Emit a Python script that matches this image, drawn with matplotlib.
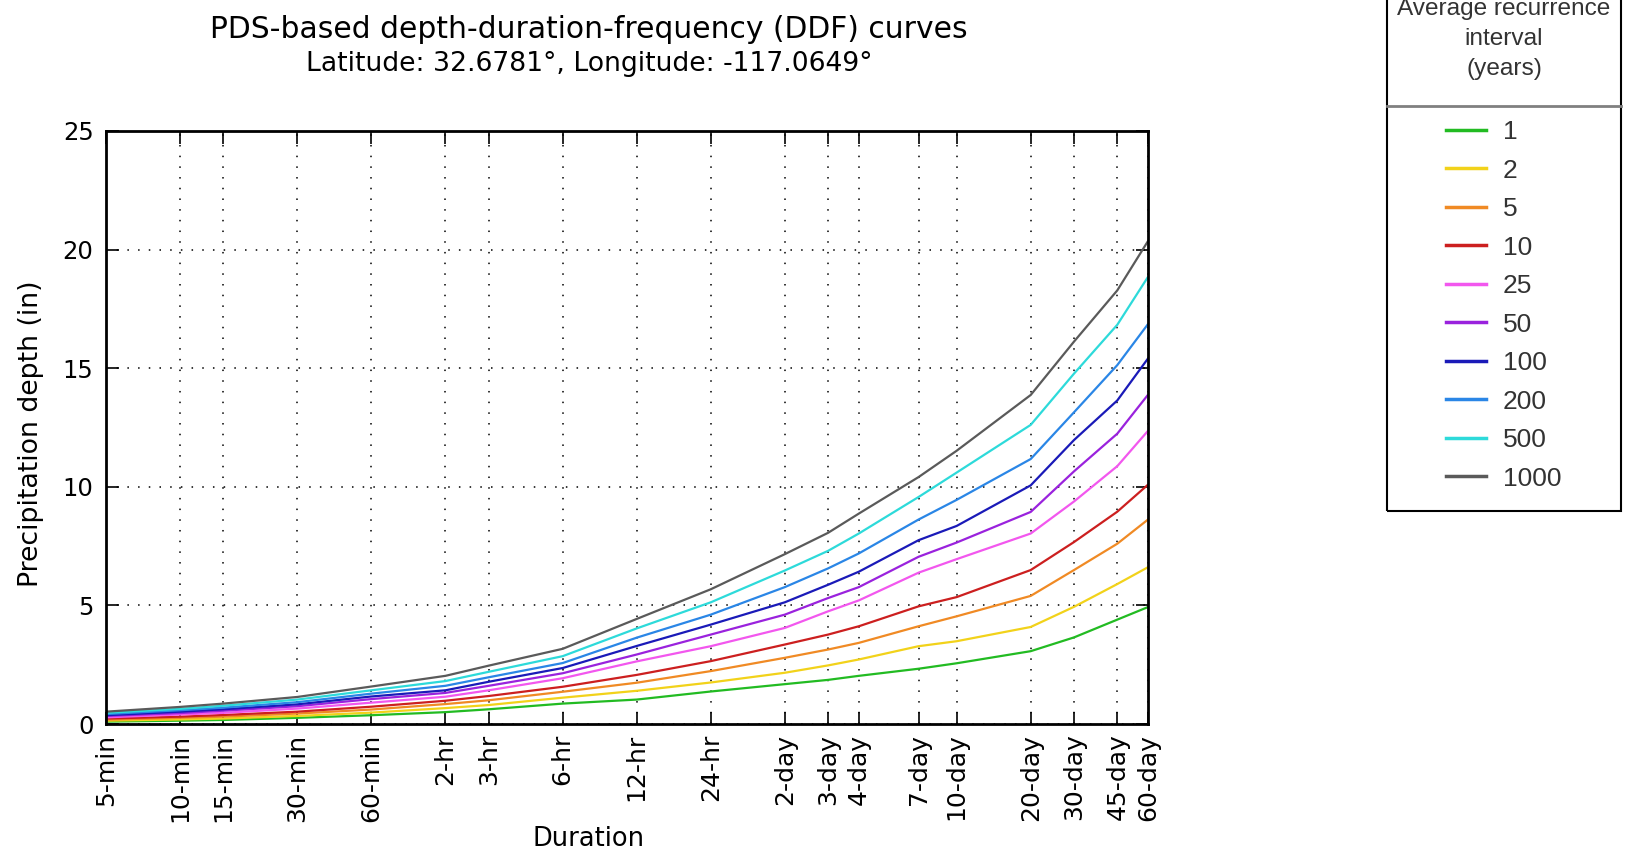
import matplotlib
matplotlib.use("Agg")
import matplotlib.pyplot as plt
from matplotlib.lines import Line2D
from matplotlib.patches import Rectangle

# Durations (minutes) and their tick labels
durations = [5, 10, 15, 30, 60, 120, 180, 360, 720, 1440, 2880, 4320, 5760,
             10080, 14400, 28800, 43200, 64800, 86400]
duration_labels = ["5-min", "10-min", "15-min", "30-min", "60-min", "2-hr", "3-hr",
                   "6-hr", "12-hr", "24-hr", "2-day", "3-day", "4-day", "7-day",
                   "10-day", "20-day", "30-day", "45-day", "60-day"]

recurrence = ["1", "2", "5", "10", "25", "50", "100", "200", "500", "1000"]
colors = ["#22bb22", "#f2d21a", "#f08a24", "#cc1f1f", "#f257ee", "#9a22dd",
          "#1a1ab8", "#2a86e6", "#2ddada", "#5a5a5a"]

# Precipitation depth (in) for each recurrence interval
ari_1 = [0.10, 0.14, 0.17, 0.26, 0.37, 0.50, 0.62, 0.86, 1.03, 1.37, 1.68, 1.86, 2.03, 2.33, 2.56, 3.07, 3.65, 4.40, 4.93]
ari_2 = [0.14, 0.19, 0.23, 0.34, 0.48, 0.67, 0.80, 1.11, 1.40, 1.75, 2.16, 2.47, 2.72, 3.28, 3.49, 4.09, 4.94, 5.90, 6.61]
ari_5 = [0.18, 0.26, 0.31, 0.44, 0.61, 0.84, 1.00, 1.36, 1.74, 2.23, 2.79, 3.14, 3.42, 4.12, 4.54, 5.40, 6.49, 7.60, 8.62]
ari_10 = [0.23, 0.31, 0.38, 0.52, 0.73, 0.98, 1.18, 1.57, 2.07, 2.65, 3.35, 3.77, 4.12, 4.96, 5.35, 6.49, 7.67, 8.95, 10.09]
ari_25 = [0.28, 0.40, 0.47, 0.65, 0.90, 1.15, 1.42, 1.93, 2.64, 3.28, 4.05, 4.75, 5.21, 6.38, 6.95, 8.03, 9.38, 10.87, 12.36]
ari_50 = [0.34, 0.46, 0.56, 0.75, 1.05, 1.31, 1.61, 2.14, 2.93, 3.77, 4.61, 5.31, 5.77, 7.05, 7.65, 8.94, 10.65, 12.24, 13.88]
ari_100 = [0.37, 0.52, 0.62, 0.83, 1.16, 1.42, 1.78, 2.36, 3.29, 4.19, 5.13, 5.87, 6.42, 7.75, 8.35, 10.06, 11.97, 13.64, 15.41]
ari_200 = [0.42, 0.58, 0.69, 0.92, 1.28, 1.61, 1.97, 2.57, 3.64, 4.61, 5.77, 6.56, 7.19, 8.62, 9.45, 11.17, 13.14, 15.13, 16.86]
ari_500 = [0.47, 0.64, 0.77, 1.03, 1.42, 1.81, 2.20, 2.86, 4.03, 5.13, 6.47, 7.30, 8.03, 9.57, 10.60, 12.61, 14.77, 16.83, 18.85]
ari_1000 = [0.52, 0.72, 0.86, 1.14, 1.58, 2.03, 2.46, 3.17, 4.43, 5.68, 7.16, 8.06, 8.87, 10.41, 11.52, 13.87, 16.12, 18.28, 20.36]

series = [ari_1, ari_2, ari_5, ari_10, ari_25, ari_50, ari_100, ari_200, ari_500, ari_1000]

W, H = 1626, 856
fig = plt.figure(figsize=(W / 100, H / 100), dpi=100)
ax = fig.add_axes([106 / W, 1 - 724 / H, (1148 - 106) / W, (724 - 131) / H])

handles = []
for vals, lab, col in zip(series, recurrence, colors):
    ln, = ax.plot(durations, vals, color=col, lw=1.6, label=lab)
    handles.append(ln)

ax.set_xscale("log")
ax.set_xlim(durations[0], durations[-1])
ax.set_ylim(0, 25)
ax.set_xticks(durations)
ax.set_xticklabels(duration_labels, rotation=90)
ax.minorticks_off()
ax.set_yticks([0, 5, 10, 15, 20, 25])
ax.tick_params(axis="both", which="major", direction="in", length=9, width=1.2,
               top=True, right=True, labelsize=17.5, colors="black")
ax.tick_params(axis="x", pad=7, labelsize=18)
ax.tick_params(axis="y", pad=9)
ax.grid(True, which="major", linestyle=(0, (1, 6)), color="black", lw=1.1)
for s in ax.spines.values():
    s.set_linewidth(2.0)

ax.set_ylabel("Precipitation depth (in)", fontsize=19.3)
ax.yaxis.set_label_coords((44 - 106) / (1148 - 106), 0.49)
ax.set_xlabel("Duration", fontsize=18.5)
ax.xaxis.label.set_va("center")
ax.xaxis.set_label_coords((589 - 106) / (1148 - 106), (724 - 839) / (724 - 131))

fig.text(589 / W, 1 - 29 / H, "PDS-based depth-duration-frequency (DDF) curves",
         ha="center", va="center", fontsize=21.4)
fig.text(589 / W, 1 - 64 / H, "Latitude: 32.6781°, Longitude: -117.0649°",
         ha="center", va="center", fontsize=19.2)

# Legend box
lx0, lx1, ly1 = 1387, 1621, 511
fig.patches.append(Rectangle((lx0 / W, 1 - ly1 / H), (lx1 - lx0) / W, (ly1 + 20) / H,
                             transform=fig.transFigure, fill=False, ec="black", lw=1.5))
fig.lines.append(Line2D([lx0 / W, lx1 / W], [1 - 106 / H, 1 - 106 / H],
                        transform=fig.transFigure, color="#808080", lw=2.0))
fig.text((lx0 + lx1) / 2 / W, 1 - 39 / H, "Average recurrence\ninterval\n(years)",
         ha="center", va="center", fontsize=17.6, family="Liberation Sans",
         color="#333333", linespacing=1.5)
leg = fig.legend(handles=handles, loc="upper left",
                 bbox_to_anchor=(1446 / W, 1 - 120 / H), frameon=False,
                 prop={"family": "Liberation Sans", "size": 19},
                 handlelength=1.5, handletextpad=0.65, labelspacing=0.55,
                 borderpad=0, borderaxespad=0)
for t in leg.get_texts():
    t.set_color("#333333")
for h in leg.legend_handles:
    h.set_linewidth(2.5)

fig.savefig("out.png", dpi=100)
